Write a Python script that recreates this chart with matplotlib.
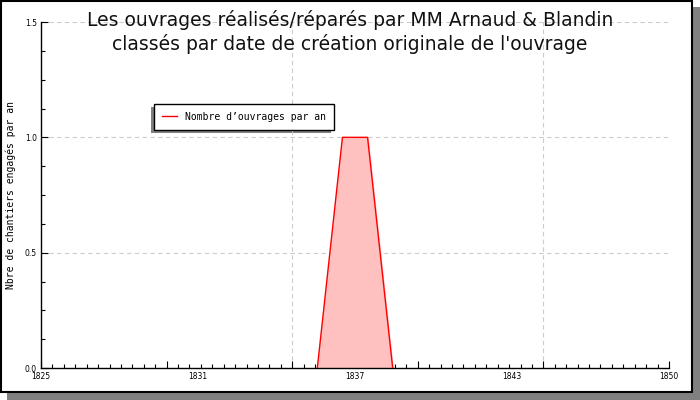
import matplotlib

matplotlib.use("Agg")
import matplotlib.pyplot as plt
from matplotlib.patches import Rectangle
from matplotlib.ticker import MultipleLocator, FormatStrFormatter
import matplotlib.transforms as mtransforms

# data
years = [1836, 1837, 1838, 1839]
counts = [0, 1, 1, 0]
x_labels = ["1825", "1831", "1837", "1843", "1850"]
x_label_pos = [1825, 1831.25, 1837.5, 1843.75, 1850]
title = ("Les ouvrages réalisés/réparés par MM Arnaud & Blandin\n"
         "classés par date de création originale de l'ouvrage")
series_name = "Nombre d\u2019ouvrages par an"
y_title = "Nbre de chantiers engagés par an"

W, H = 700, 400
fig = plt.figure(figsize=(7, 4), dpi=100)

# frame with drop shadow
fig.patches.append(Rectangle((7 / W, 0), 693 / W, 393 / H, transform=fig.transFigure,
                             facecolor="#808080", edgecolor="none", zorder=-3))
fig.patches.append(Rectangle((1 / W, 8 / H), 691 / W, 391 / H, transform=fig.transFigure,
                             facecolor="white", edgecolor="black", linewidth=1.5, zorder=-2))

ax = fig.add_axes([41 / W, (H - 368) / H, (669 - 41) / W, (368 - 22) / H])
ax.set_facecolor("none")

ax.fill_between(years, counts, color="#ffc0c0", zorder=2)
ax.plot(years, counts, color="red", linewidth=1, zorder=3, label=series_name)

ax.set_xlim(1825, 1850)
ax.set_ylim(0, 1.5)

for s in ("top", "right"):
    ax.spines[s].set_visible(False)
for s in ("left", "bottom"):
    ax.spines[s].set_linewidth(1)

# ticks: majors every 5 years, minor ticks, labels drawn separately
ax.xaxis.set_major_locator(MultipleLocator(5))
ax.xaxis.set_minor_locator(MultipleLocator(5 / 11))
ax.set_xticklabels([])
ax.yaxis.set_major_locator(MultipleLocator(0.5))
ax.yaxis.set_minor_locator(MultipleLocator(0.125))
ax.yaxis.set_major_formatter(FormatStrFormatter("%.1f"))
ax.tick_params(which="major", direction="in", length=5, width=0.8, labelsize=5.5,
               pad=3, colors="black")
ax.tick_params(which="minor", direction="in", length=3, width=0.8)

trans = mtransforms.blended_transform_factory(ax.transData, ax.transAxes)
for pos, lab in zip(x_label_pos, x_labels):
    ax.text(pos, -0.012, lab, transform=trans, ha="center", va="top", fontsize=5.5)

# grid lines
for gx in (1835, 1845):
    ax.axvline(gx, color="#cccccc", linestyle=(0, (4, 3)), linewidth=0.8, zorder=1)
for gy in (0.5, 1.0, 1.5):
    ax.axhline(gy, color="#cccccc", linestyle=(0, (4, 3)), linewidth=0.8, zorder=1)

fig.text(11 / W, 1 - 195 / H, y_title, family="DejaVu Sans Mono", fontsize=7,
         rotation=90, ha="center", va="center")

fig.text(0.5, 0.975, title, ha="center", va="top", fontsize=13.5, linespacing=1.22,
         color="#111111")

# legend with left/bottom shadow
leg = ax.legend(loc="upper left", bbox_to_anchor=((154 - 41) / (669 - 41), 1 - (104 - 22) / 346),
                frameon=True, fancybox=False, edgecolor="black", framealpha=1,
                prop={"family": "DejaVu Sans Mono", "size": 7}, handlelength=1.6,
                borderpad=0.8, handletextpad=0.8, borderaxespad=0)
leg.get_frame().set_linewidth(1)
fig.canvas.draw()
bb = leg.get_window_extent().transformed(fig.transFigure.inverted())
fig.patches.append(Rectangle((bb.x0 - 3 / W, bb.y0 - 3 / H), bb.width, bb.height,
                             transform=fig.transFigure, facecolor="#808080",
                             edgecolor="none", zorder=-1))

fig.savefig("out.png", dpi=100)
